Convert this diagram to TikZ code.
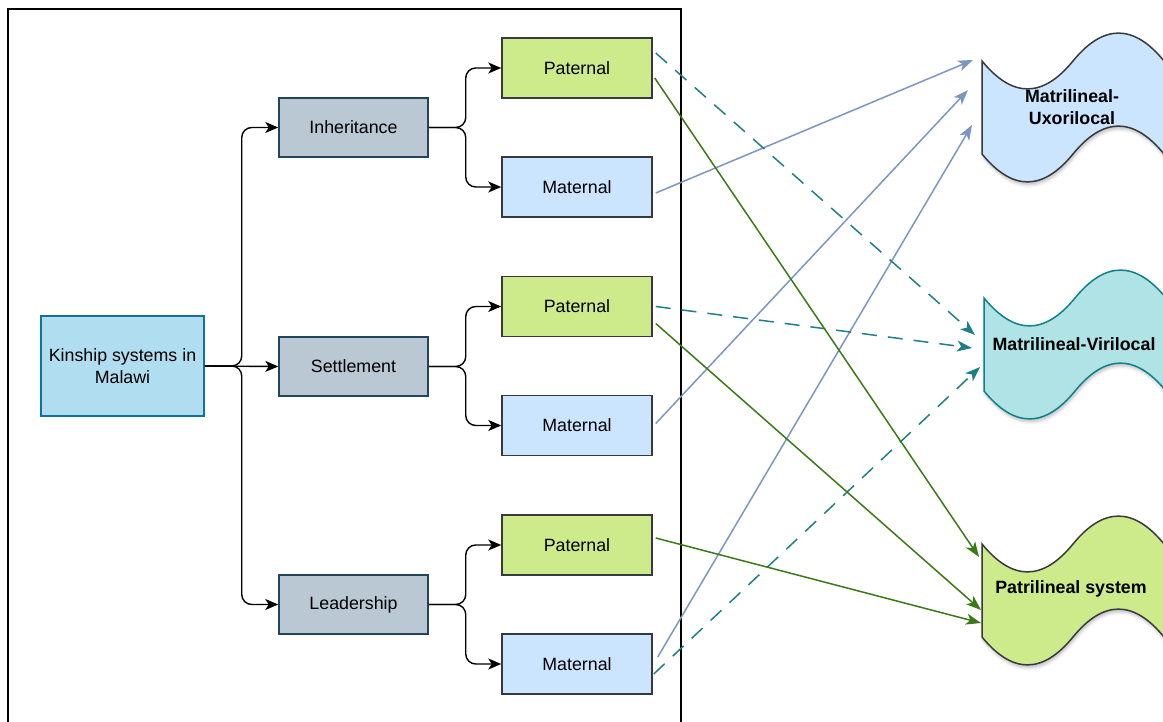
\documentclass[tikz,border=0pt]{standalone}
\usepackage{fontspec}
\setmainfont{Liberation Sans}
\usetikzlibrary{arrows.meta,shadows.blur}
\definecolor{kinfill}{HTML}{B1DDF0}
\definecolor{kindraw}{HTML}{10739E}
\definecolor{greyfill}{HTML}{BAC8D3}
\definecolor{greydraw}{HTML}{23445D}
\definecolor{patfill}{HTML}{CDEB8B}
\definecolor{matfill}{HTML}{CCE5FF}
\definecolor{boxdraw}{HTML}{36393D}
\definecolor{virfill}{HTML}{B0E3E6}
\definecolor{virdraw}{HTML}{0E8088}
\definecolor{bluearrow}{HTML}{7C96C4}
\definecolor{greenarrow}{HTML}{3A7A14}
\definecolor{tealarrow}{HTML}{1E8085}
\begin{document}
\begin{tikzpicture}[x=1pt,y=-1pt,
  font=\fontsize{17.8}{22.5}\selectfont,
  base/.style={rectangle, inner sep=0pt, line width=1.5pt, align=center},
  kinbox/.style={base, fill=kinfill, draw=kindraw, minimum width=163pt, minimum height=100pt},
  catbox/.style={base, fill=greyfill, draw=greydraw, minimum width=149pt, minimum height=59pt},
  patbox/.style={base, fill=patfill, draw=boxdraw, minimum width=150pt, minimum height=60pt},
  matbox/.style={base, fill=matfill, draw=boxdraw, minimum width=150pt, minimum height=60pt},
  tree/.style={line width=1.4pt, black, rounded corners=10pt, -{Stealth[length=13pt,width=11pt,inset=3.5pt]}},
  link/.style={line width=1.5pt, -{Stealth[length=15pt,width=11pt,inset=4pt]}},
  bluelink/.style={link, bluearrow},
  greenlink/.style={link, greenarrow},
  teallink/.style={link, tealarrow, dash pattern=on 15pt off 11pt},
  tapeline/.style={line width=1.5pt, blur shadow={shadow xshift=1pt, shadow yshift=-3pt, shadow opacity=25, shadow blur radius=3pt}},
  tapetext/.style={align=center, font=\fontsize{17.8}{22}\selectfont\bfseries, inner sep=0pt}
]
\useasboundingbox (0,0) rectangle (1163,722);
\clip (0,0) rectangle (1163,722);

% frame
\draw[line width=2pt, black] (8,722) -- (8,9) -- (681,9) -- (681,722);

% tapes
\begin{scope}[shift={(982,30)}]
\draw[tapeline, fill=matfill, draw=boxdraw] (0,31) .. controls (30.33,68.2) and (60.67,68.2) .. (91,31) .. controls (121.33,-6.2) and (151.67,-6.2) .. (182,31) -- (182,124) .. controls (151.67,86.8) and (121.33,86.8) .. (91,124) .. controls (60.67,161.2) and (30.33,161.2) .. (0,124) -- cycle;
\end{scope}
\begin{scope}[shift={(984,267)}]
\draw[tapeline, fill=virfill, draw=virdraw] (0,31) .. controls (30.33,68.2) and (60.67,68.2) .. (91,31) .. controls (121.33,-6.2) and (151.67,-6.2) .. (182,31) -- (182,124) .. controls (151.67,86.8) and (121.33,86.8) .. (91,124) .. controls (60.67,161.2) and (30.33,161.2) .. (0,124) -- cycle;
\end{scope}
\begin{scope}[shift={(982,513)}]
\draw[tapeline, fill=patfill, draw=boxdraw] (0,31) .. controls (30.33,68.2) and (60.67,68.2) .. (91,31) .. controls (121.33,-6.2) and (151.67,-6.2) .. (182,31) -- (182,124) .. controls (151.67,86.8) and (121.33,86.8) .. (91,124) .. controls (60.67,161.2) and (30.33,161.2) .. (0,124) -- cycle;
\end{scope}
\node[tapetext] (tu) at (1072,107) {Matrilineal-\\Uxorilocal};
\node[tapetext] (tv) at (1074,344) {Matrilineal-Virilocal};
\node[tapetext] (tp) at (1071,589) {Patrilineal system};

% boxes
\node[kinbox] (kin) at (122.5,366) {Kinship systems in\\Malawi};
\node[catbox] (inh) at (353.5,127.5) {Inheritance};
\node[catbox] (set) at (353.5,366.5) {Settlement};
\node[catbox] (lea) at (353.5,604.5) {Leadership};
\node[patbox] (pat1) at (577,68) {Paternal};
\node[matbox] (mat1) at (577,187) {Maternal};
\node[patbox] (pat2) at (577,306.5) {Paternal};
\node[matbox] (mat2) at (577,425.5) {Maternal};
\node[patbox] (pat3) at (577,545) {Paternal};
\node[matbox] (mat3) at (577,664) {Maternal};

% tree connectors
\draw[tree] (kin.east) -- ++(37,0) |- (inh.west);
\draw[tree] (kin.east) -- (set.west);
\draw[tree] (kin.east) -- ++(37,0) |- (lea.west);
\draw[tree] (inh.east) -- ++(37,0) |- (pat1.west);
\draw[tree] (inh.east) -- ++(37,0) |- (mat1.west);
\draw[tree] (set.east) -- ++(37,0) |- (pat2.west);
\draw[tree] (set.east) -- ++(37,0) |- (mat2.west);
\draw[tree] (lea.east) -- ++(37,0) |- (pat3.west);
\draw[tree] (lea.east) -- ++(37,0) |- (mat3.west);

% arrow ends
\coordinate (u1) at (973,60);
\coordinate (u2) at (968,90);
\coordinate (u3) at (972,125);
\coordinate (v1) at (975,335);
\coordinate (v2) at (972,348);
\coordinate (v3) at (980,367);
\coordinate (p1) at (979,557);
\coordinate (p2) at (981,610);
\coordinate (p3) at (981,623);

% links
\draw[bluelink] ([shift={(3,6)}]mat1.east) -- (u1);
\draw[bluelink] ([shift={(3,-2)}]mat2.east) -- (u2);
\draw[bluelink] ([shift={(5,-7)}]mat3.east) -- (u3);
\draw[teallink] ([shift={(3,-15)}]pat1.east) -- (v1);
\draw[teallink] ([shift={(3,0)}]pat2.east) -- (v2);
\draw[teallink] ([shift={(1,10)}]mat3.east) -- (v3);
\draw[greenlink] ([shift={(2,10)}]pat1.east) -- (p1);
\draw[greenlink] ([shift={(3,17)}]pat2.east) -- (p2);
\draw[greenlink] ([shift={(3,-7)}]pat3.east) -- (p3);
\end{tikzpicture}
\end{document}
